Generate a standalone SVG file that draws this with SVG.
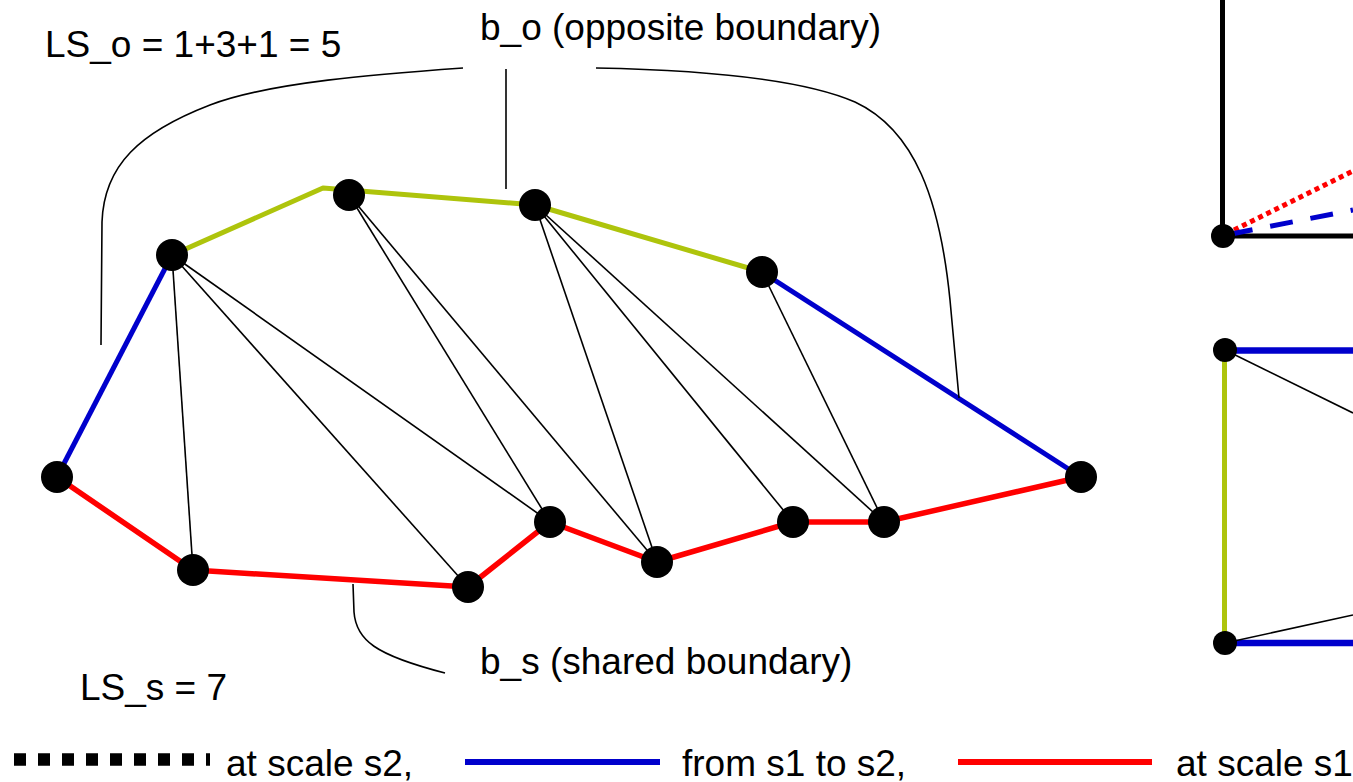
<svg xmlns="http://www.w3.org/2000/svg" width="1353" height="782" viewBox="0 0 1353 782">
<style>
  text { font-family: "Liberation Sans", Arial, sans-serif; font-size: 37px; fill: #000; }
  .thin { stroke: #000; stroke-width: 1.6; fill: none; }
  .callout { stroke: #000; stroke-width: 1.6; fill: none; }
  .green { stroke: #aec40c; stroke-width: 5; fill: none; stroke-linejoin: round; }
  .blue { stroke: #0000cc; stroke-width: 5; fill: none; }
  .red { stroke: #ff0000; stroke-width: 5.5; fill: none; stroke-linejoin: round; }
  .black { stroke: #000; stroke-width: 5; fill: none; }
  .node { fill: #000; }
</style>
<rect width="1353" height="782" fill="#fff"/>

<g id="connectors">
  <!-- triangulation edges -->
  <line class="thin" x1="172" y1="255" x2="193" y2="570"/>
  <line class="thin" x1="172" y1="255" x2="468" y2="587"/>
  <line class="thin" x1="172" y1="255" x2="550" y2="522"/>
  <line class="thin" x1="349" y1="195" x2="550" y2="522"/>
  <line class="thin" x1="349" y1="195" x2="657" y2="562"/>
  <line class="thin" x1="535" y1="205" x2="657" y2="562"/>
  <line class="thin" x1="535" y1="205" x2="793" y2="522"/>
  <line class="thin" x1="535" y1="205" x2="884" y2="522"/>
  <line class="thin" x1="762" y1="272" x2="884" y2="522"/>
  <!-- boundaries -->
  <polyline class="green" points="172,255 323,188 535,205 762,272"/>
  <line class="blue" x1="57" y1="477" x2="172" y2="255"/>
  <line class="blue" x1="762" y1="272" x2="1081" y2="477"/>
  <polyline class="red" points="57,477 193,570 468,587 550,522 657,562 793,522 884,522 1081,477"/>
  <!-- callouts -->
  <path class="callout" d="M463,68 C380,74 270,82 210,105 C140,132 104,165 102,222 L101,345"/>
  <line class="callout" x1="506" y1="69" x2="506" y2="189"/>
  <path class="callout" d="M596,68 C700,70 800,78 855,102 C915,130 940,200 950,300 L959,398"/>
  <path class="callout" d="M353,584 L354,612 C356,640 375,655 445,673"/>

  <!-- right partial figure (top) -->
  <line class="black" x1="1222.5" y1="0" x2="1222.5" y2="236"/>
  <line class="black" x1="1223" y1="236" x2="1353" y2="236"/>
  <line stroke="#ff0000" stroke-width="5" stroke-dasharray="5 4" x1="1226" y1="234" x2="1353" y2="171"/>
  <line stroke="#0000cc" stroke-width="5" stroke-dasharray="23 18" stroke-dashoffset="-4" x1="1226" y1="235" x2="1353" y2="210"/>

  <!-- right partial figure (bottom) -->
  <line stroke="#aec40c" stroke-width="5" x1="1224.5" y1="350" x2="1224.5" y2="643"/>
  <line stroke="#0000cc" stroke-width="6.5" x1="1225" y1="350.5" x2="1353" y2="350.5"/>
  <line stroke="#0000cc" stroke-width="6.5" x1="1225" y1="643" x2="1353" y2="643"/>
  <line class="thin" x1="1225" y1="350" x2="1353" y2="413"/>
  <line class="thin" x1="1225" y1="643" x2="1353" y2="615"/>

  <!-- legend -->
  <line stroke="#000" stroke-width="12.5" stroke-dasharray="12 12" x1="14" y1="759.5" x2="210" y2="759.5"/>
  <line stroke="#0000cc" stroke-width="6" x1="465" y1="762" x2="660" y2="762"/>
  <line stroke="#ff0000" stroke-width="6" x1="958" y1="762" x2="1152" y2="762"/>
</g>

<g id="nA"><circle class="node" cx="57" cy="477" r="16"/></g>
<g id="nB"><circle class="node" cx="172" cy="255" r="16"/></g>
<g id="nC"><circle class="node" cx="349" cy="195" r="16"/></g>
<g id="nD"><circle class="node" cx="535" cy="205" r="16"/></g>
<g id="nE"><circle class="node" cx="762" cy="272" r="16"/></g>
<g id="nF"><circle class="node" cx="1081" cy="477" r="16"/></g>
<g id="nG"><circle class="node" cx="193" cy="570" r="16"/></g>
<g id="nH"><circle class="node" cx="468" cy="587" r="16"/></g>
<g id="nI"><circle class="node" cx="550" cy="522" r="16"/></g>
<g id="nJ"><circle class="node" cx="657" cy="562" r="16"/></g>
<g id="nK"><circle class="node" cx="793" cy="522" r="16"/></g>
<g id="nL"><circle class="node" cx="884" cy="522" r="16"/></g>
<g id="nR1"><circle class="node" cx="1223" cy="236" r="12"/></g>
<g id="nR2"><circle class="node" cx="1225" cy="350" r="12"/></g>
<g id="nR3"><circle class="node" cx="1225" cy="643" r="12"/></g>

<g id="labels">
  <text x="45" y="57">LS_o = 1+3+1 = 5</text>
  <text x="480" y="40">b_o (opposite boundary)</text>
  <text x="480" y="674">b_s (shared boundary)</text>
  <text x="80" y="700">LS_s = 7</text>
  <text x="226" y="776">at scale s2,</text>
  <text x="682" y="776">from s1 to s2,</text>
  <text x="1176" y="776">at scale s1</text>
</g>
</svg>
